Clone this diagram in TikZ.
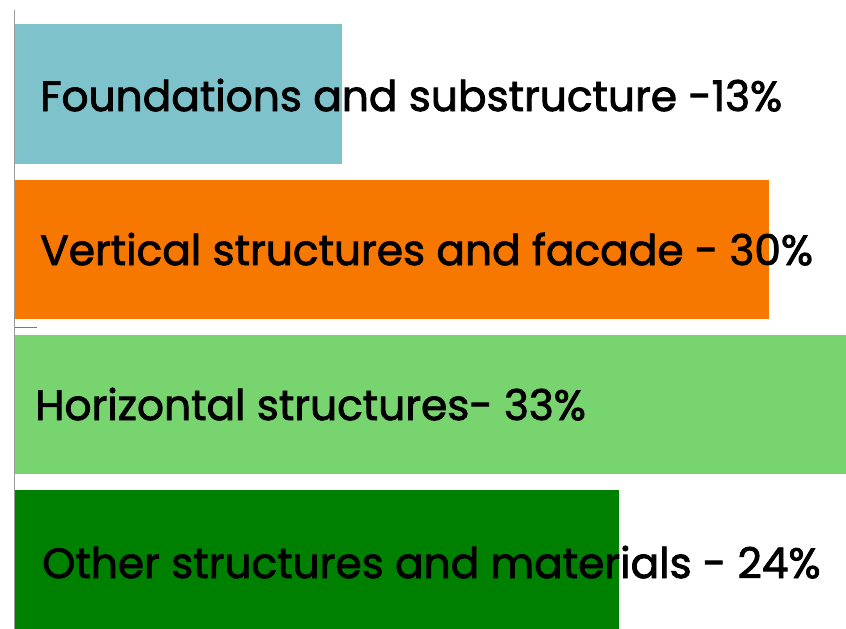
\documentclass[tikz,border=0pt]{standalone}
\usepackage{fontspec}
\setmainfont{Poppins}
\newfontfamily\lblfont[FakeBold=2]{Poppins}
\definecolor{barA}{HTML}{7EC3CC}
\definecolor{barB}{HTML}{F77800}
\definecolor{barC}{HTML}{78D46E}
\definecolor{barD}{HTML}{008000}
\definecolor{axisgray}{HTML}{999999}
\begin{document}
\begin{tikzpicture}[x=1pt,y=-1pt,
  lbl/.style={anchor=base west,inner sep=0pt,font=\lblfont\fontsize{42.3}{46}\selectfont,text=black}]
\useasboundingbox (0,0) rectangle (846,629);
\fill[barA] (15,24) rectangle (342,164);
\fill[barB] (15,180) rectangle (769,319);
\fill[barC] (15,335) rectangle (846,474);
\fill[barD] (15,490) rectangle (619,629);
\draw[axisgray,line width=1.2pt] (14.5,10) -- (14.5,629);
\draw[axisgray!80!black,line width=1pt] (14.5,327) -- (37,327);
\node[lbl] (t1) at (40,111) {Foundations and substructure -13\%};
\node[lbl] (t2) at (40,265) {Vertical structures and facade - 30\%};
\node[lbl] (t3) at (35,420) {Horizontal structures- 33\%};
\node[lbl] (t4) at (42,578) {Other structures and materials - 24\%};
\end{tikzpicture}
\end{document}
